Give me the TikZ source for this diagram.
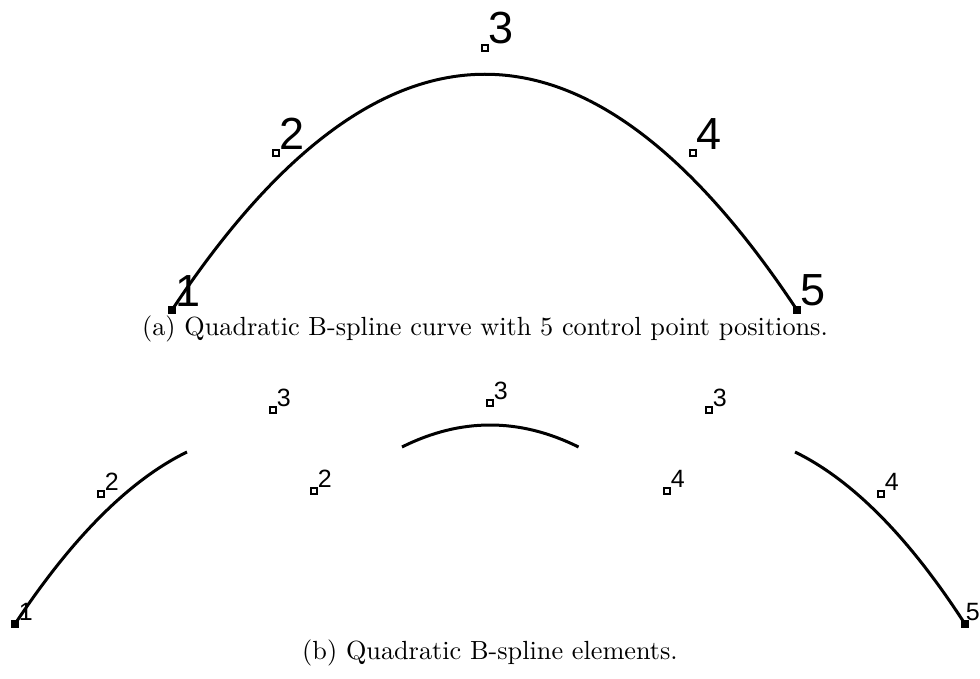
\documentclass[tikz,border=0pt]{standalone}
\usepackage{fontspec}
\newfontfamily\numfont{Liberation Sans}
\usetikzlibrary{calc}

\tikzset{
  ctrlpt/.style={rectangle, draw, fill=white, line width=0.8pt, minimum size=2.6pt, inner sep=0pt},
  endpt/.style={ctrlpt, fill=black},
  bignum/.style={font=\numfont\fontsize{18}{18}\selectfont, anchor=south west, inner sep=0pt},
  smallnum/.style={font=\numfont\fontsize{10}{10}\selectfont, anchor=south west, inner sep=0pt},
  spline/.style={line width=1.2pt},
  caption/.style={font=\fontsize{10.5}{12}\selectfont, inner sep=0pt},
}

% quadratic Bezier piece: start, control, end
\newcommand{\quadpiece}[3]{%
  \draw[spline] (#1) .. controls ($(#1)!2/3!(#2)$) and ($(#3)!2/3!(#2)$) .. (#3);}

\begin{document}
\begin{tikzpicture}[x=0.4pt, y=-0.4pt]
  \useasboundingbox (0,0) rectangle (980,679);

  % (a) whole curve
  \begin{scope}
    \node[endpt]  (a1) at (172,310) {};
    \node[ctrlpt] (a2) at (276,153) {};
    \node[ctrlpt] (a3) at (485,48) {};
    \node[ctrlpt] (a4) at (693,153) {};
    \node[endpt]  (a5) at (797,310) {};

    \coordinate (a23) at ($(a2)!0.5!(a3)$);
    \coordinate (a34) at ($(a3)!0.5!(a4)$);

    \quadpiece{a1.center}{a2.center}{a23}
    \quadpiece{a23}{a3.center}{a34}
    \quadpiece{a34}{a4.center}{a5.center}

    \foreach \i in {1,...,5}
      \node[bignum] (na\i) at ($(a\i.north east)+(-1,1)$) {\i};

    \node[caption] (capa) at (485,329) {(a) Quadratic B-spline curve with 5 control point positions.};
  \end{scope}

  % (b) element 1
  \begin{scope}
    \node[endpt]  (b1) at (15,624) {};
    \node[ctrlpt] (b2) at (101,494) {};
    \node[ctrlpt] (b3) at (273,410) {};
    \coordinate (b23) at ($(b2)!0.5!(b3)$);
    \quadpiece{b1.center}{b2.center}{b23}
    \node[smallnum] at ($(b1.north east)+(-1,1)$) {1};
    \node[smallnum] at ($(b2.north east)+(-1,1)$) {2};
    \node[smallnum] at ($(b3.north east)+(-1,1)$) {3};
  \end{scope}

  % (b) element 2
  \begin{scope}
    \node[ctrlpt] (c2) at (314,491) {};
    \node[ctrlpt] (c3) at (490,403) {};
    \node[ctrlpt] (c4) at (667,491) {};
    \coordinate (c23) at ($(c2)!0.5!(c3)$);
    \coordinate (c34) at ($(c3)!0.5!(c4)$);
    \quadpiece{c23}{c3.center}{c34}
    \node[smallnum] at ($(c2.north east)+(-1,1)$) {2};
    \node[smallnum] at ($(c3.north east)+(-1,1)$) {3};
    \node[smallnum] at ($(c4.north east)+(-1,1)$) {4};
  \end{scope}

  % (b) element 3
  \begin{scope}
    \node[ctrlpt] (d3) at (709,410) {};
    \node[ctrlpt] (d4) at (881,494) {};
    \node[endpt]  (d5) at (965,624) {};
    \coordinate (d34) at ($(d3)!0.5!(d4)$);
    \quadpiece{d34}{d4.center}{d5.center}
    \node[smallnum] at ($(d3.north east)+(-1,1)$) {3};
    \node[smallnum] at ($(d4.north east)+(-1,1)$) {4};
    \node[smallnum] at ($(d5.north east)+(-4,1)$) {5};
  \end{scope}

  \node[caption] (capb) at (490,653) {(b) Quadratic B-spline elements.};
\end{tikzpicture}
\end{document}
